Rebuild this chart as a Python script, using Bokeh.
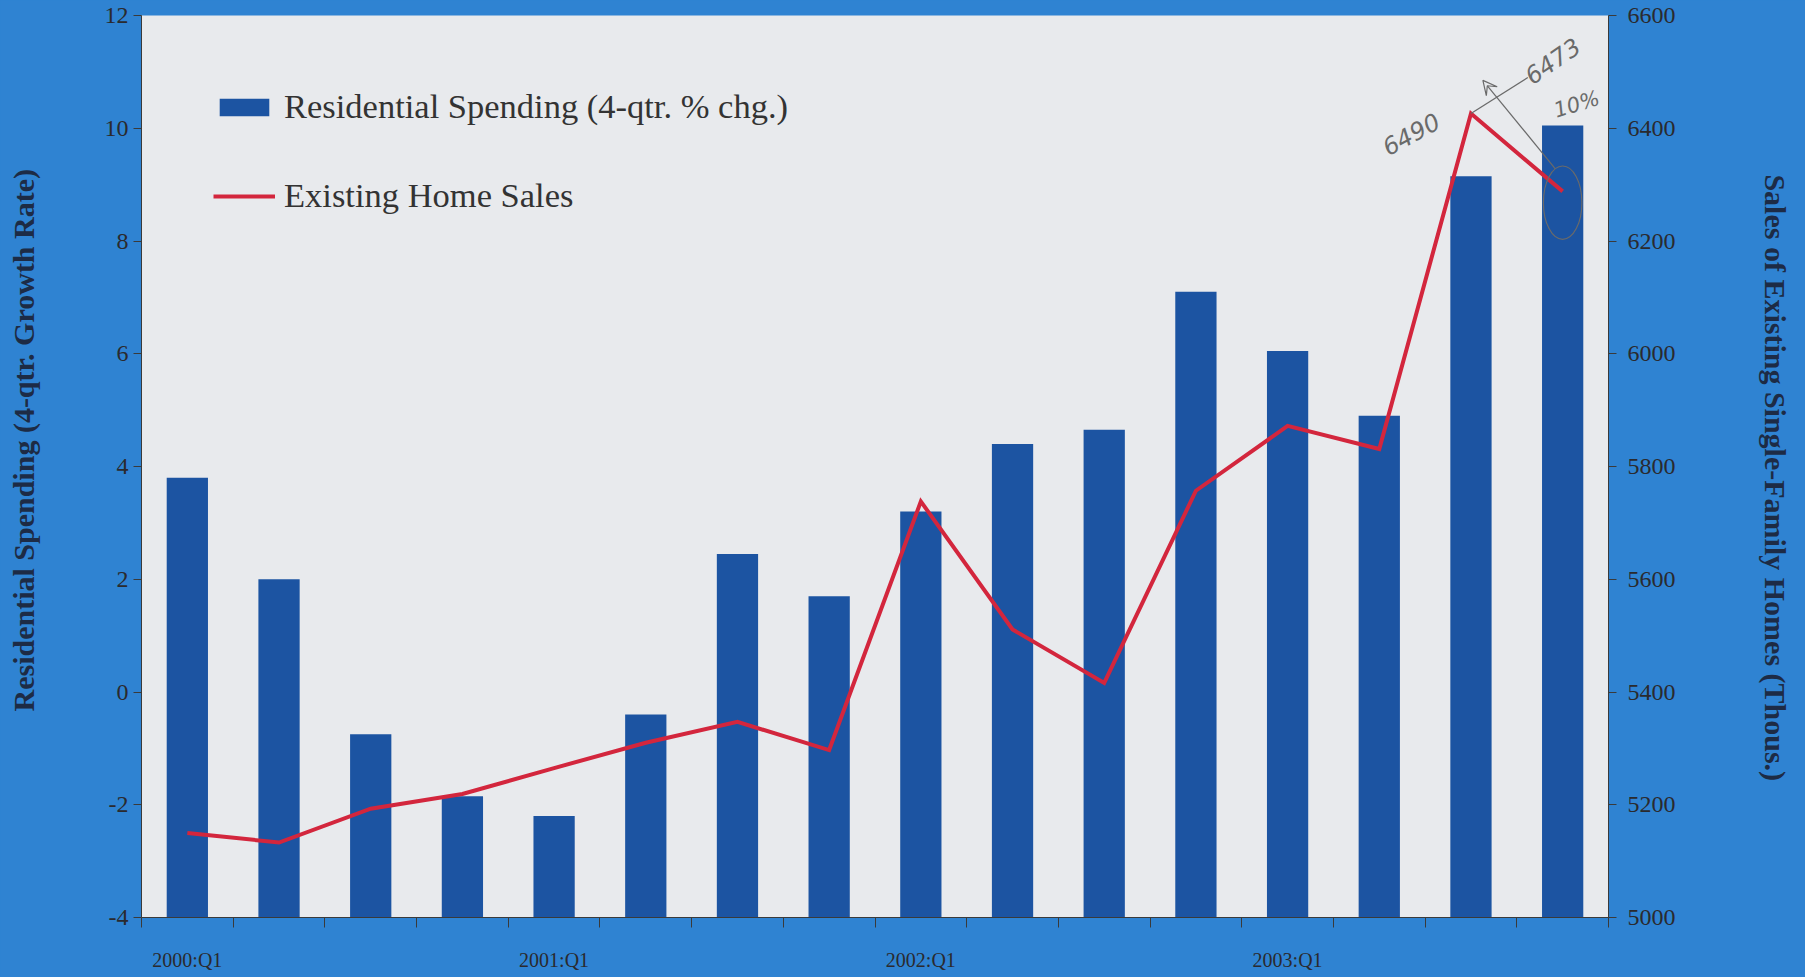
from bokeh.plotting import figure
from bokeh.models import Range1d, LinearAxis, FixedTicker, Legend, LegendItem, Label, Arrow, VeeHead
from bokeh.embed import file_html
from bokeh.resources import INLINE

# ---------------- data ----------------
quarters = ["2000:Q1", "2000:Q2", "2000:Q3", "2000:Q4",
            "2001:Q1", "2001:Q2", "2001:Q3", "2001:Q4",
            "2002:Q1", "2002:Q2", "2002:Q3", "2002:Q4",
            "2003:Q1", "2003:Q2", "2003:Q3", "2003:Q4"]
res_spending = [3.8, 2.0, -0.75, -1.85, -2.2, -0.4, 2.45, 1.7,
                3.2, 4.4, 4.65, 7.1, 6.05, 4.9, 9.15, 10.05]
home_sales = [5150, 5133, 5193, 5219, 5265, 5310, 5347, 5297,
              5738, 5511, 5416, 5757, 5872, 5831, 6426, 6288]
left_ticks = [-4, -2, 0, 2, 4, 6, 8, 10, 12]
right_ticks = [5000, 5200, 5400, 5600, 5800, 6000, 6200, 6400, 6600]
notes = ["6490", "6473", "10%"]

BLUE_BG = "#2f83d2"
PLOT_BG = "#e8eaed"
BAR = "#1c54a2"
LINE = "#d3263d"
TXT = "#2a2a2e"
TITLE = "#1d2b45"
NBSP = "\u00a0"

xs = list(range(len(quarters)))
bar_bottom = [left_ticks[0]] * len(quarters)

p = figure(width=1805, height=977, output_backend="svg", toolbar_location=None,
           x_range=Range1d(-0.5, len(quarters) - 0.5),
           y_range=Range1d(left_ticks[0], left_ticks[-1]),
           background_fill_color=PLOT_BG, border_fill_color=BLUE_BG,
           outline_line_color=None,
           min_border_left=141, min_border_right=197,
           min_border_top=15, min_border_bottom=60)
p.xgrid.visible = False
p.ygrid.visible = False

p.extra_y_ranges = {"sales": Range1d(right_ticks[0], right_ticks[-1])}

bars = p.vbar(x=xs, bottom=bar_bottom, top=res_spending, width=0.45,
              fill_color=BAR, line_color=None)
line = p.line(x=xs, y=home_sales, y_range_name="sales",
              line_color=LINE, line_width=4, line_join="miter")

# left axis
ya = p.yaxis[0]
ya.ticker = FixedTicker(ticks=left_ticks)
ya.major_label_overrides = {t: str(t) for t in left_ticks}
ya.axis_label = NBSP * 7 + "Residential Spending (4-qtr. Growth Rate)"
ya.axis_label_text_font = "Liberation Serif"
ya.axis_label_text_font_style = "bold"
ya.axis_label_text_font_size = "30px"
ya.axis_label_text_color = TITLE
ya.axis_label_standoff = 62
ya.major_label_text_font = "Liberation Serif"
ya.major_label_text_font_size = "24px"
ya.major_label_text_color = TXT
ya.major_label_standoff = 5
ya.major_tick_out = 8
ya.major_tick_in = 0
ya.minor_tick_line_color = None
ya.axis_line_color = "#3a3a3a"
ya.major_tick_line_color = "#3a3a3a"

# right axis
ra = LinearAxis(y_range_name="sales", ticker=FixedTicker(ticks=right_ticks))
ra.axis_label = NBSP * 3 + "Sales of Existing Single-Family Homes (Thous.)"
ra.axis_label_text_font = "Liberation Serif"
ra.axis_label_text_font_style = "bold"
ra.axis_label_text_font_size = "30px"
ra.axis_label_text_color = TITLE
ra.axis_label_standoff = 80
ra.major_label_text_font = "Liberation Serif"
ra.major_label_text_font_size = "24px"
ra.major_label_text_color = TXT
ra.major_label_standoff = 11
ra.major_tick_out = 8
ra.major_tick_in = 0
ra.minor_tick_line_color = None
ra.axis_line_color = "#3a3a3a"
ra.major_tick_line_color = "#3a3a3a"
p.add_layout(ra, "right")

# bottom axis
xa = p.xaxis[0]
q1_idx = [i for i, q in enumerate(quarters) if q.endswith("Q1")]
xa.ticker = FixedTicker(ticks=q1_idx, minor_ticks=[i - 0.5 for i in range(len(quarters) + 1)])
xa.major_label_overrides = {i: quarters[i] for i in q1_idx}
xa.major_label_text_font = "Liberation Serif"
xa.major_label_text_font_size = "20px"
xa.major_label_text_color = TXT
xa.major_label_standoff = 21
xa.major_tick_line_color = None
xa.major_tick_out = 10
xa.minor_tick_out = 10
xa.minor_tick_in = 0
xa.minor_tick_line_color = "#3a3a3a"
xa.axis_line_color = "#3a3a3a"

# legend
legend = Legend(items=[LegendItem(label="Residential Spending (4-qtr. % chg.)", renderers=[bars]),
                       LegendItem(label="Existing Home Sales", renderers=[line])],
                location="top_left", margin=72, padding=0, spacing=50,
                glyph_width=62, glyph_height=22, label_standoff=9,
                label_text_font="Liberation Serif", label_text_font_size="34.5px",
                label_text_color="#333333",
                background_fill_alpha=0, border_line_color=None)
p.add_layout(legend)

# handwritten notes
NOTE = "#6a6a6a"
p.add_layout(Label(x=13.1, y=9.5, text=notes[0], angle=0.5, text_font="DejaVu Sans",
                   text_font_style="italic", text_font_size="24px", text_color=NOTE))
p.add_layout(Label(x=14.67, y=10.76, text=notes[1], angle=0.6, text_font="DejaVu Sans",
                   text_font_style="italic", text_font_size="24px", text_color=NOTE))
p.add_layout(Label(x=14.95, y=10.1, text=notes[2], angle=0.3, text_font="DejaVu Sans",
                   text_font_style="italic", text_font_size="21px", text_color=NOTE))
p.add_layout(Arrow(x_start=14.0, y_start=home_sales[14], x_end=14.62, y_end=6490,
                   y_range_name="sales", end=None, line_color=NOTE, line_width=1.2))
p.add_layout(Arrow(x_start=14.92, y_start=home_sales[15] + 40, x_end=14.13, y_end=6485,
                   y_range_name="sales", end=VeeHead(size=14, fill_color=None, line_color=NOTE,
                                                     line_width=1.2),
                   line_color=NOTE, line_width=1.2))
p.ellipse(x=[xs[-1]], y=[home_sales[-1] - 20], width=0.42, height=130, y_range_name="sales",
          fill_color=None, line_color=NOTE, line_width=1.2)

html = file_html(p, INLINE)
html = html.replace("</head>", "<style>html,body{background:%s;}</style></head>" % BLUE_BG, 1)
open("out.html", "w").write(html)
